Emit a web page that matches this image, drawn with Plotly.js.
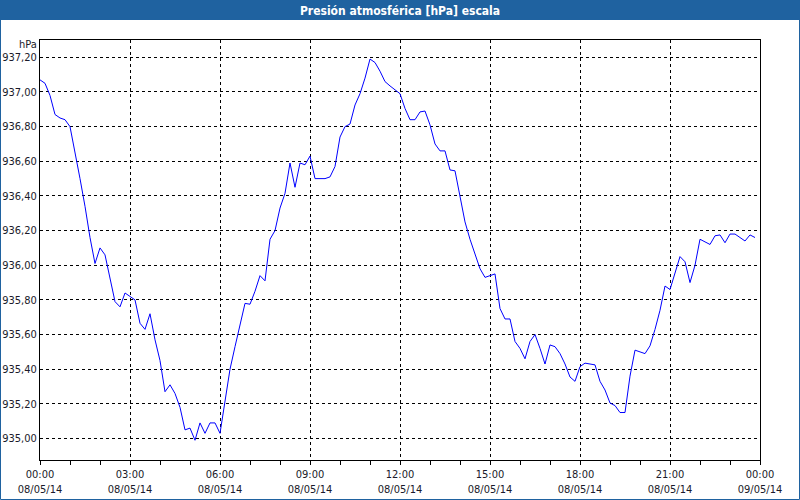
<!DOCTYPE html>
<html>
<head>
<meta charset="utf-8">
<script src="https://cdn.plot.ly/plotly-3.0.1.min.js"></script>
<style>
html,body{margin:0;padding:0;background:#fff;}
#chart{width:800px;height:500px;}
</style>
</head>
<body>
<div id="chart"></div>
<script>
// Pressure readings every 10 minutes starting 08/05/14 00:00
var startTime = '2014-05-08 00:00';
var stepMs = 600000;
var pressure = [
 937.07, 937.05, 936.98, 936.87, 936.85, 936.84, 936.80, 936.66, 936.50, 936.34, 936.16, 936.01,
 936.10, 936.06, 935.92, 935.79, 935.76, 935.84, 935.82, 935.80, 935.665, 935.63, 935.72, 935.57,
 935.45, 935.27, 935.31, 935.26, 935.18, 935.05, 935.06, 934.99, 935.09, 935.03, 935.09, 935.09,
 935.03, 935.22, 935.40, 935.53, 935.65, 935.78, 935.775, 935.85, 935.94, 935.91, 936.15, 936.20,
 936.33, 936.415, 936.59, 936.45, 936.59, 936.58, 936.63, 936.50, 936.50, 936.50, 936.51, 936.57,
 936.74, 936.80, 936.815, 936.925, 936.99, 937.08, 937.19, 937.17, 937.12, 937.06, 937.035, 937.01,
 936.99, 936.905, 936.84, 936.84, 936.885, 936.89, 936.81, 936.70, 936.66, 936.66, 936.55, 936.545,
 936.405, 936.25, 936.15, 936.06, 935.98, 935.93, 935.94, 935.95, 935.75, 935.69, 935.69, 935.56,
 935.52, 935.46, 935.56, 935.60, 935.52, 935.43, 935.54, 935.53, 935.49, 935.43, 935.355, 935.33,
 935.415, 935.435, 935.43, 935.425, 935.33, 935.28, 935.205, 935.19, 935.15, 935.15, 935.36, 935.51,
 935.50, 935.49, 935.535, 935.63, 935.74, 935.88, 935.86, 935.96, 936.05, 936.02, 935.90, 936.00,
 936.15, 936.135, 936.12, 936.17, 936.175, 936.13, 936.18, 936.18, 936.16, 936.14, 936.175, 936.16
];
var xTickVals = ['2014-05-08 00:00','2014-05-08 03:00','2014-05-08 06:00','2014-05-08 09:00',
 '2014-05-08 12:00','2014-05-08 15:00','2014-05-08 18:00','2014-05-08 21:00','2014-05-09 00:00'];
var xTickText = ['00:00<br>08/05/14','03:00<br>08/05/14','06:00<br>08/05/14','09:00<br>08/05/14',
 '12:00<br>08/05/14','15:00<br>08/05/14','18:00<br>08/05/14','21:00<br>08/05/14','00:00<br>09/05/14'];
var yTickVals = [935.00, 935.20, 935.40, 935.60, 935.80, 936.00, 936.20, 936.40, 936.60, 936.80, 937.00, 937.20];
var yTickText = ['935,00','935,20','935,40','935,60','935,80','936,00','936,20','936,40','936,60','936,80','937,00','937,20'];
var titleText = 'Presión atmosférica [hPa] escala';
var unitText = 'hPa';

var FONT = '"DejaVu Sans Condensed", "DejaVu Sans", sans-serif';
var headerBlue = '#1F62A0';

var trace = {
  type: 'scatter', mode: 'lines',
  x0: startTime, dx: stepMs,
  y: pressure,
  line: {color: '#0000FF', width: 1},
  hoverinfo: 'x+y'
};

var layout = {
  width: 800, height: 500,
  margin: {l: 40, r: 40, t: 40, b: 40, pad: 0},
  paper_bgcolor: '#FFFFFF', plot_bgcolor: '#FFFFFF',
  showlegend: false,
  font: {family: FONT, size: 11, color: '#1a1a2a'},
  title: {
    text: '<b>' + titleText + '</b>',
    font: {family: FONT, size: 12, color: '#FFFFFF'},
    x: 0.5, xanchor: 'center', xref: 'paper',
    y: 1 - 10.5/500, yref: 'container', yanchor: 'middle'
  },
  xaxis: {
    type: 'date',
    range: ['2014-05-08 00:00', '2014-05-09 00:00'],
    tickmode: 'array', tickvals: xTickVals, ticktext: xTickText,
    ticks: 'outside', ticklen: 4, tickcolor: '#000', tickwidth: 1,
    tickfont: {family: FONT, size: 11, color: '#1a1a2a'},
    showgrid: true, gridcolor: '#000000', gridwidth: 1, griddash: '3px,3px',
    minor: {tickmode: 'linear', tick0: '2014-05-08 00:00', dtick: 3600000, ticks: 'outside', ticklen: 4, tickcolor: '#000', showgrid: false},
    showline: true, linecolor: '#000', linewidth: 1, mirror: true,
    zeroline: false, fixedrange: true
  },
  yaxis: {
    range: [934.876, 937.30],
    tickmode: 'array', tickvals: yTickVals, ticktext: yTickText,
    ticks: '', tickfont: {family: FONT, size: 11, color: '#1a1a2a'},
    showgrid: true, gridcolor: '#000000', gridwidth: 1, griddash: '3px,3px',
    showline: true, linecolor: '#000', linewidth: 1, mirror: true,
    zeroline: false, fixedrange: true
  },
  shapes: [
    {type: 'rect', xref: 'paper', yref: 'paper', layer: 'below',
     x0: -40/720, x1: 1 + 40/720, y0: 1 + 20/420, y1: 1 + 40/420,
     fillcolor: headerBlue, line: {width: 0}},
    {type: 'rect', xref: 'paper', yref: 'paper', layer: 'above',
     x0: -39.5/720, x1: 1 + 39.5/720, y0: -39.5/420, y1: 1 + 39.5/420,
     fillcolor: 'rgba(0,0,0,0)', line: {color: headerBlue, width: 1}}
  ],
  annotations: [
    {text: unitText, xref: 'paper', yref: 'paper', x: 0, y: 1,
     xanchor: 'right', yanchor: 'top', xshift: -2, yshift: 3, showarrow: false,
     borderpad: 0,
     font: {family: FONT, size: 11, color: '#1a1a2a'}}
  ]
};

Plotly.newPlot('chart', [trace], layout, {staticPlot: true, displayModeBar: false});
</script>
</body>
</html>
